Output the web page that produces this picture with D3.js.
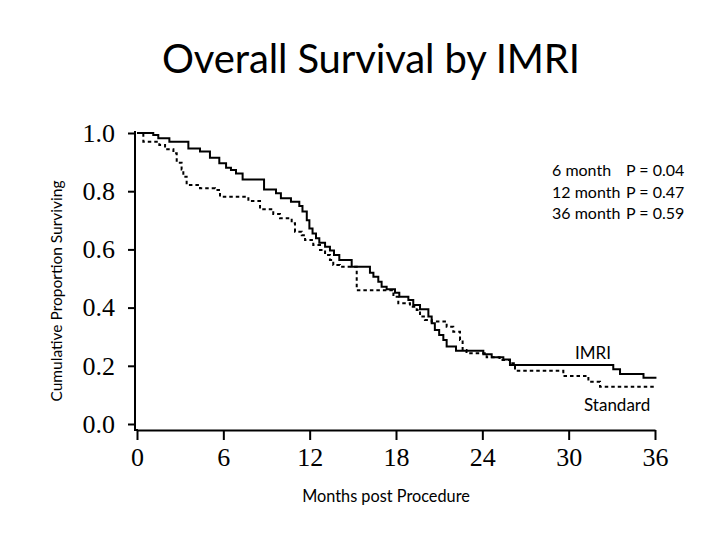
<!DOCTYPE html>
<html><head><meta charset="utf-8">
<script src="https://cdn.jsdelivr.net/npm/d3@7"></script>
<style>
html,body{margin:0;padding:0;background:#fff;}
svg{display:block;}
</style></head>
<body>
<svg id="chart" width="720" height="540"></svg>
<script>
// ---- data (months, survival after step) ----
const imriTimes = [0,1.13,1.48,2.25,3.57,4.38,5.07,5.72,6.19,6.53,6.88,7.34,8.83,9.66,10.0,10.7,11.28,11.5,11.8,11.98,12.2,12.44,12.67,13.07,13.41,13.69,14.06,14.92,16.19,16.43,16.77,17.0,17.35,17.93,18.23,18.86,19.2,19.67,20.25,20.48,20.7,21.0,21.29,21.52,22.17,24.07,24.65,25.46,25.92,33.1,33.57,35.2,36.1];
const imriSurv  = [1.0,0.993,0.982,0.97,0.947,0.936,0.915,0.896,0.881,0.873,0.861,0.84,0.806,0.793,0.776,0.764,0.749,0.73,0.70,0.672,0.655,0.638,0.623,0.609,0.596,0.581,0.564,0.54,0.52,0.506,0.489,0.472,0.463,0.451,0.437,0.426,0.409,0.394,0.369,0.346,0.323,0.306,0.289,0.266,0.252,0.24,0.229,0.222,0.203,0.188,0.172,0.159,0.159];
const stdTimes  = [0,0.44,1.55,1.95,2.53,2.76,3.1,3.22,3.45,4.38,5.42,5.77,7.74,8.55,9.47,9.94,10.75,10.98,11.45,11.68,12.25,12.72,13.07,13.41,13.64,14.1,15.27,17.82,18.16,18.97,19.44,19.67,20.01,20.48,21.52,21.98,22.45,22.63,22.9,24.3,25.2,25.92,26.27,29.63,31.37,32.18,36.1];
const stdSurv   = [1.0,0.97,0.959,0.944,0.93,0.898,0.875,0.85,0.821,0.81,0.804,0.781,0.766,0.738,0.722,0.707,0.69,0.661,0.649,0.632,0.615,0.598,0.581,0.564,0.546,0.54,0.46,0.437,0.415,0.403,0.392,0.369,0.357,0.352,0.334,0.317,0.289,0.254,0.243,0.229,0.22,0.209,0.183,0.165,0.145,0.128,0.128];
const xTicks = [0,6,12,18,24,30,36];
const yTicks = [0,0.2,0.4,0.6,0.8,1.0];
const pLabels = ["6 month", "12 month", "36 month"];
const pValues = ["P = 0.04", "P = 0.47", "P = 0.59"];

const svg = d3.select("#chart");
const sans = "Lato, 'Open Sans', sans-serif";
const serif = "'Liberation Serif', 'Times New Roman', serif";

const x = d3.scaleLinear().domain([0,36]).range([137,655]);
const y = d3.scaleLinear().domain([0,1]).range([424,133]);

// title
svg.append("text").attr("x",371).attr("y",73).attr("text-anchor","middle")
  .attr("font-family",sans).attr("font-size",40).attr("fill","#000")
  .attr("textLength",418)
  .text("Overall Survival by IMRI");

// x axis
const xg = svg.append("g").attr("transform","translate(0,430)")
  .call(d3.axisBottom(x).tickValues(xTicks).tickFormat(d3.format("d")).tickSize(10).tickSizeOuter(0).tickPadding(8));
xg.select(".domain").attr("stroke","#000").attr("stroke-width",2);
xg.selectAll(".tick line").attr("stroke","#000").attr("stroke-width",2);
xg.selectAll(".tick text").attr("font-family",serif).attr("font-size",26).attr("fill","#000");

// y axis
const yg = svg.append("g").attr("transform","translate(135,0)")
  .call(d3.axisLeft(y).tickValues(yTicks).tickFormat(d3.format(".1f")).tickSize(7).tickSizeOuter(0).tickPadding(13));
yg.select(".domain").remove();
yg.append("line").attr("x1",0).attr("x2",0).attr("y1",y(1)-2).attr("y2",431).attr("stroke","#000").attr("stroke-width",2);
yg.append("line").attr("x1",-1).attr("x2",3).attr("y1",430).attr("y2",430).attr("stroke","#000").attr("stroke-width",2);
yg.selectAll(".tick line").attr("stroke","#000").attr("stroke-width",2);
yg.selectAll(".tick text").attr("font-family",serif).attr("font-size",26).attr("fill","#000");

// axis titles
svg.append("text").attr("transform","translate(62,291) rotate(-90)").attr("text-anchor","middle")
  .attr("font-family",sans).attr("font-size",15.5).attr("fill","#000").text("Cumulative Proportion Surviving");
svg.append("text").attr("x",386).attr("y",502).attr("text-anchor","middle")
  .attr("font-family",sans).attr("font-size",16.3).attr("fill","#000").text("Months post Procedure");

// curves
const line = d3.line().x(d=>x(d[0])).y(d=>y(d[1])).curve(d3.curveStepAfter);
const imri = imriTimes.map((t,i)=>[t,imriSurv[i]]);
const std = stdTimes.map((t,i)=>[t,stdSurv[i]]);
svg.append("path").datum(std).attr("d",line).attr("fill","none").attr("stroke","#000")
  .attr("stroke-width",2).attr("stroke-dasharray","3.5,3");
svg.append("path").datum(imri).attr("d",line).attr("fill","none").attr("stroke","#000")
  .attr("stroke-width",2);

// p-values
const pg = svg.append("g").attr("font-family",sans).attr("font-size",16).attr("fill","#000");
pLabels.forEach((lab,i)=>{
  pg.append("text").attr("x",552).attr("y",176+i*21.7).text(lab);
  pg.append("text").attr("x",626).attr("y",176+i*21.7).text(pValues[i]);
});

// series labels
svg.append("text").attr("x",575).attr("y",359).attr("font-family",sans).attr("font-size",17).attr("fill","#000").text("IMRI");
svg.append("text").attr("x",584).attr("y",411).attr("font-family",sans).attr("font-size",17).attr("fill","#000").text("Standard");
</script>
</body></html>
